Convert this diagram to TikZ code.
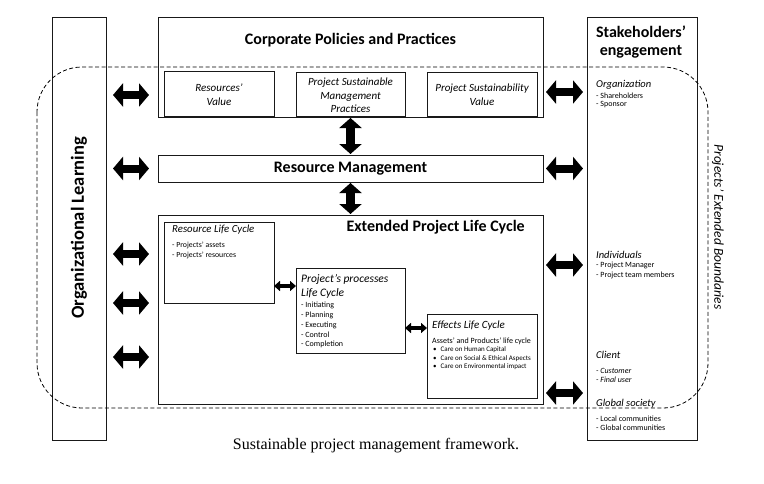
\documentclass[tikz,border=0pt]{standalone}
\usepackage{fontspec}
\setmainfont{Carlito}
\newfontfamily\capfont{Liberation Serif}
\usetikzlibrary{arrows.meta}
\newcommand{\fs}[1]{\fontsize{#1}{#1}\selectfont}
\newcommand{\fsl}[2]{\fontsize{#1}{#2}\selectfont}
\begin{document}
\begin{tikzpicture}[x=1pt,y=-1pt,
  box/.style={draw=black!90,line width=0.8pt,inner sep=0pt,outer sep=0pt},
  bigarr/.style={draw=black,line width=8pt,{Triangle[width=23pt,length=10pt]}-{Triangle[width=23pt,length=10pt]}},
  vertarr/.style={draw=black,line width=9pt,{Triangle[width=22pt,length=10pt]}-{Triangle[width=22pt,length=10pt]}},
  smallarr/.style={draw=black,line width=3.5pt,{Triangle[width=10pt,length=6pt]}-{Triangle[width=10pt,length=6pt]}},
  txt/.style={inner sep=0pt,anchor=west},
  ctxt/.style={inner sep=0pt,align=center},
  ittwo/.style={ctxt,font=\fsl{11}{14}\itshape}]
\useasboundingbox (0,0) rectangle (764,483);
% boxes
\node[box,minimum width=54pt,minimum height=423pt] (orgL) at (79,228.5) {};
\node[box,minimum width=110pt,minimum height=423pt] (stake) at (642,228.5) {};
\node[box,minimum width=385pt,minimum height=100pt] (corp) at (350.5,67) {};
\node[box,minimum width=110pt,minimum height=45pt] (rv) at (219,93.5) {};
\node[box,minimum width=109pt,minimum height=44pt] (psm) at (350.5,94) {};
\node[box,minimum width=110pt,minimum height=44pt] (psv) at (482,94) {};
\node[box,minimum width=385pt,minimum height=27pt] (rm) at (350.5,168.5) {};
\node[box,minimum width=385pt,minimum height=189pt] (eplc) at (350.5,309.5) {};
\node[box,minimum width=110pt,minimum height=81pt] (rlc) at (219,262.5) {};
\node[box,minimum width=109pt,minimum height=85pt] (ppl) at (350.5,310.5) {};
\node[box,minimum width=110pt,minimum height=84pt] (elc) at (482,356) {};
% titles
\node[ctxt,rotate=90] (tOrg) at (79,228) {\fs{18.5}\bfseries Organizational Learning};
\node[ctxt] (tCorp) at (350.5,40) {\fs{16}\bfseries Corporate Policies and Practices};
\node[ittwo] (tRV) at (219,95) {Resources’\\Value};
\node[ittwo,font=\fsl{11}{13.5}\itshape] (tPSM) at (350.5,95.5) {Project Sustainable\\Management\\Practices};
\node[ittwo] (tPSV) at (482,95) {Project Sustainability\\Value};
\node[ctxt] (tRM) at (350.5,168.5) {\fs{16}\bfseries Resource Management};
\node[ctxt,anchor=east] (tEPLC) at (525,227) {\fs{16}\bfseries Extended Project Life Cycle};
% resource life cycle
\node[txt] (tRLC) at (172,230) {\fs{10.8}\itshape Resource Life Cycle};
\node[txt] (r1) at (172,245.5) {\fs{7.8}- Projects’ assets};
\node[txt] (r2) at (172,255) {\fs{7.8}- Projects’ resources};
% project processes
\node[txt] (tPP1) at (301,279) {\fs{11.5}\itshape Project’s processes};
\node[txt] (tPP2) at (301,293) {\fs{11.5}\itshape Life Cycle};
\node[txt] (p1) at (301,305.5) {\fs{8}- Initiating};
\node[txt] (p2) at (301,315) {\fs{8}- Planning};
\node[txt] (p3) at (301,325) {\fs{8}- Executing};
\node[txt] (p4) at (301,334.5) {\fs{8}- Control};
\node[txt] (p5) at (301,344) {\fs{8}- Completion};
% effects
\node[txt] (tE) at (432,326) {\fs{11}\itshape Effects Life Cycle};
\node[txt] (e0) at (432,341) {\fs{8}Assets’ and Products’ life cycle};
\node[txt] (e1) at (433,350) {\fs{7}\textbullet\hspace{4pt}Care on Human Capital};
\node[txt] (e2) at (433,358.5) {\fs{7}\textbullet\hspace{4pt}Care on Social \& Ethical Aspects};
\node[txt] (e3) at (433,367) {\fs{7}\textbullet\hspace{4pt}Care on Environmental impact};
% stakeholders
\node[ctxt] (tS1) at (641,32) {\fs{16}\bfseries Stakeholders’};
\node[ctxt] (tS2) at (641,52) {\fs{16}\bfseries engagement};
\node[txt] (sO) at (596,85) {\fs{10.5}\itshape Organization};
\node[txt] (sO1) at (596,95.5) {\fs{8}- Shareholders};
\node[txt] (sO2) at (596,104.5) {\fs{8}- Sponsor};
\node[txt] (sI) at (596,255) {\fs{10.5}\itshape Individuals};
\node[txt] (sI1) at (596,265.5) {\fs{8}- Project Manager};
\node[txt] (sI2) at (596,275) {\fs{8}- Project team members};
\node[txt] (sC) at (596,355) {\fs{10.5}\itshape Client};
\node[txt] (sC1) at (596,370.5) {\fs{8}\itshape - Customer};
\node[txt] (sC2) at (596,380) {\fs{8}\itshape - Final user};
\node[txt] (sG) at (596,404) {\fs{10.5}\itshape Global society};
\node[txt] (sG1) at (596,418.5) {\fs{8}- Local communities};
\node[txt] (sG2) at (596,428) {\fs{8}- Global communities};
% extended boundaries label
\node[ctxt,rotate=-90] (tPEB) at (718,227) {\fs{13.5}\itshape Projects’ Extended Boundaries};
% caption
\node[ctxt] (cap) at (376,446) {\capfont\fs{16}Sustainable project management framework.};
% level coordinates
\coordinate (l1) at (0,95);
\coordinate (l2) at (0,168.5);
\coordinate (l3) at (0,254);
\coordinate (l4) at (0,303);
\coordinate (l5) at (0,357);
\coordinate (q1) at (0,92);
\coordinate (q2) at (0,168.5);
\coordinate (q3) at (0,265);
\coordinate (q4) at (0,393);
\coordinate (m1) at (0,286);
\coordinate (m2) at (0,328);
% left arrows
\draw[bigarr,shorten <=7pt,shorten >=9pt] (orgL.east |- l1) -- (corp.west |- l1);
\draw[bigarr,shorten <=7pt,shorten >=9pt] (orgL.east |- l2) -- (rm.west |- l2);
\draw[bigarr,shorten <=7pt,shorten >=9pt] (orgL.east |- l3) -- (eplc.west |- l3);
\draw[bigarr,shorten <=7pt,shorten >=9pt] (orgL.east |- l4) -- (eplc.west |- l4);
\draw[bigarr,shorten <=7pt,shorten >=9pt] (orgL.east |- l5) -- (eplc.west |- l5);
% right arrows
\draw[bigarr,shorten <=3pt,shorten >=4pt] (corp.east |- q1) -- (stake.west |- q1);
\draw[bigarr,shorten <=3pt,shorten >=4pt] (rm.east |- q2) -- (stake.west |- q2);
\draw[bigarr,shorten <=3pt,shorten >=4pt] (eplc.east |- q3) -- (stake.west |- q3);
\draw[bigarr,shorten <=3pt,shorten >=4pt] (eplc.east |- q4) -- (stake.west |- q4);
% vertical arrows
\draw[vertarr,shorten <=1pt,shorten >=1pt] (corp.south) -- (rm.north);
\draw[vertarr,shorten <=1pt,shorten >=1pt] (rm.south) -- (eplc.north);
% small arrows
\draw[smallarr] (rlc.east |- m1) -- (ppl.west |- m1);
\draw[smallarr] (ppl.east |- m2) -- (elc.west |- m2);
% dashed extended boundary
\draw[black,line width=0.8pt,dash pattern=on 4pt off 2.5pt,rounded corners=45pt] (37,67) rectangle (708,408);
\end{tikzpicture}
\end{document}
